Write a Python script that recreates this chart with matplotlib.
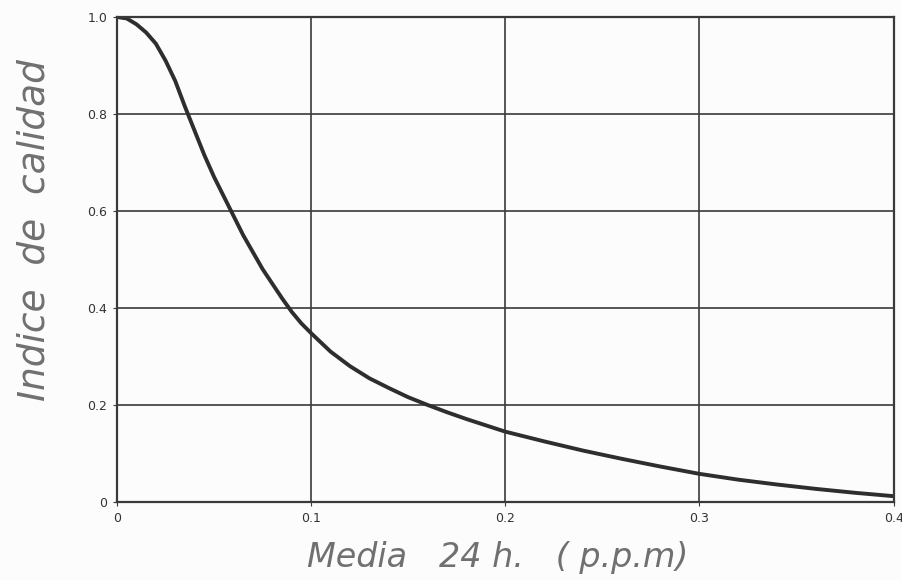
import matplotlib.pyplot as plt
import numpy as np

# curva
media_ppm = [0.000, 0.005, 0.010, 0.015, 0.020, 0.025, 0.030, 0.035, 0.040, 0.045,
             0.050, 0.055, 0.060, 0.065, 0.070, 0.075, 0.080, 0.085, 0.090, 0.095,
             0.100, 0.110, 0.120, 0.130, 0.140, 0.150, 0.160, 0.170, 0.180, 0.190,
             0.200, 0.220, 0.240, 0.260, 0.280, 0.300, 0.320, 0.340, 0.360, 0.380, 0.400]
indice = [1.000, 0.997, 0.985, 0.968, 0.945, 0.910, 0.868, 0.815, 0.765, 0.715,
          0.670, 0.630, 0.590, 0.550, 0.515, 0.480, 0.450, 0.420, 0.392, 0.368,
          0.348, 0.310, 0.280, 0.255, 0.235, 0.216, 0.200, 0.185, 0.171, 0.158,
          0.145, 0.125, 0.106, 0.089, 0.073, 0.058, 0.046, 0.036, 0.027, 0.019, 0.012]

xticks = [0, 0.1, 0.2, 0.3, 0.4]
xtick_labels = ['0', '0.1', '0.2', '0.3', '0.4']
yticks = [0, 0.2, 0.4, 0.6, 0.8, 1.0]
ytick_labels = ['0', '0.2', '0.4', '0.6', '0.8', '1.0']

fig = plt.figure(figsize=(9.03, 5.8), dpi=100)
fig.patch.set_facecolor('#fcfcfc')
ax = fig.add_axes([0.1296, 0.1345, 0.8600, 0.8362])
ax.set_facecolor('#fcfcfc')

ax.plot(media_ppm, indice, color='#2e2e2e', lw=2.8, solid_capstyle='round',
        solid_joinstyle='round')

ax.set_xlim(0, 0.4)
ax.set_ylim(0, 1.0)
ax.set_xticks(xticks)
ax.set_xticklabels(xtick_labels)
ax.set_yticks(yticks)
ax.set_yticklabels(ytick_labels)
ax.grid(True, color='#3a3a3a', lw=1.2)
ax.tick_params(axis='both', length=3, color='#3a3a3a', labelsize=9, labelcolor='#333333', pad=4)
for s in ax.spines.values():
    s.set_color('#3a3a3a')
    s.set_linewidth(1.6)

ax.set_xlabel('Media   24 h.   ( p.p.m)', fontsize=24, color='#707070',
              style='italic', fontweight='light')
ax.xaxis.set_label_coords(0.49, -0.08, transform=ax.transAxes)
ax.xaxis.label.set_verticalalignment('top')
ax.set_ylabel('Indice  de  calidad', fontsize=27, color='#707070',
              style='italic', fontweight='light')
ax.yaxis.set_label_coords(-0.083, 0.56)

plt.savefig('out.png', dpi=100)
